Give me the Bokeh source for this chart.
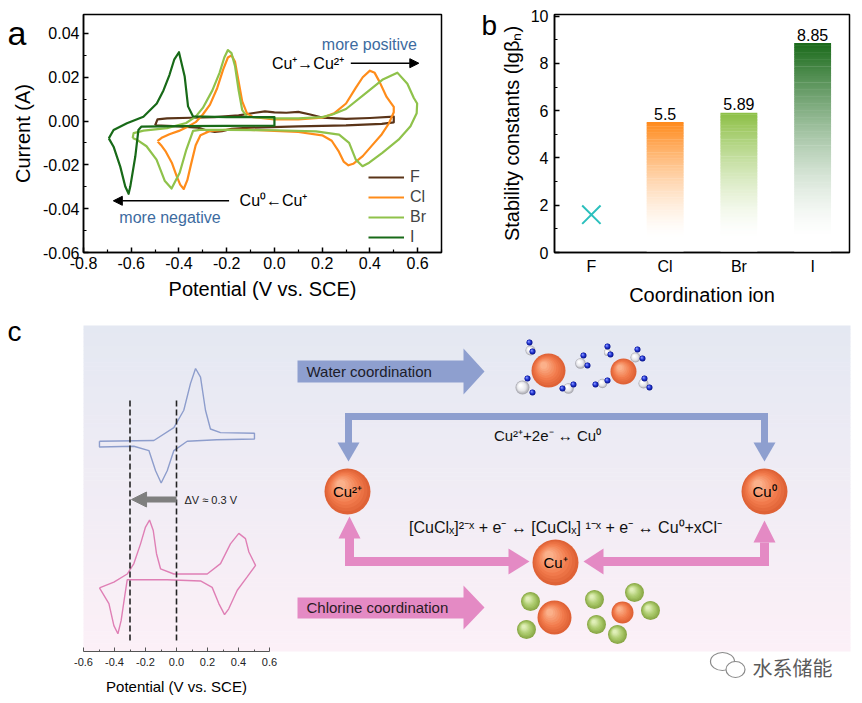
import numpy as np
from bokeh.plotting import figure
from bokeh.layouts import column, row
from bokeh.models import (Range1d, FactorRange, FixedTicker, NumeralTickFormatter,
                          Label, Arrow, NormalHead, GridBox)
from bokeh.core.properties import value
from bokeh.embed import file_html
from bokeh.resources import INLINE

FONT = "Liberation Sans"

# ------------------------------------------------------------------ data (a)
F_E = [-0.50, -0.49, -0.45, -0.35, -0.25, -0.15, -0.08, -0.04, 0.00, 0.05, 0.10, 0.15, 0.20, 0.30, 0.40, 0.50,
       0.50, 0.45, 0.30, 0.10, -0.10, -0.18, -0.22, -0.25, -0.28, -0.32, -0.40, -0.50]
F_I = [-0.0020, 0.0008, 0.0012, 0.0015, 0.0018, 0.0026, 0.0038, 0.0044, 0.0040, 0.0038, 0.0042, 0.0030, 0.0016,
       0.0010, 0.0014, 0.0020, -0.0006, -0.0013, -0.0020, -0.0024, -0.0030, -0.0036, -0.0046, -0.0050, -0.0044,
       -0.0030, -0.0024, -0.0020]

CL_E = [-0.49, -0.47, -0.44, -0.40, -0.37, -0.33, -0.30, -0.27, -0.24, -0.215, -0.195, -0.18, -0.165, -0.15,
        -0.135, -0.115, -0.09, 0.0, 0.1, 0.2, 0.25, 0.30, 0.34, 0.37, 0.40, 0.42, 0.44, 0.47, 0.49, 0.50,
        0.50, 0.48, 0.45, 0.41, 0.37, 0.33, 0.31, 0.29, 0.27, 0.24, 0.20, 0.10, 0.0, -0.1, -0.2, -0.27, -0.31,
        -0.33, -0.35, -0.365, -0.38, -0.395, -0.41, -0.43, -0.455, -0.475, -0.49]
CL_I = [-0.0092, -0.0075, -0.0060, -0.0045, -0.0030, -0.0005, 0.0030, 0.0075, 0.0150, 0.0235, 0.0290, 0.0300,
        0.0270, 0.0180, 0.0090, 0.0035, 0.0018, 0.0008, 0.0008, 0.0015, 0.0035, 0.0080, 0.0150, 0.0200, 0.0230,
        0.0220, 0.0180, 0.0110, 0.0080, 0.0065,
        0.0040, -0.0010, -0.0060, -0.0110, -0.0160, -0.0195, -0.0202, -0.0185, -0.0140, -0.0090, -0.0065,
        -0.0050, -0.0045, -0.0040, -0.0040, -0.0045, -0.0065, -0.0110, -0.0200, -0.0270, -0.0310, -0.0290,
        -0.0250, -0.0190, -0.0140, -0.0110, -0.0092]

BR_E = [-0.594, -0.59, -0.548, -0.45, -0.37, -0.33, -0.30, -0.26, -0.23, -0.21, -0.195, -0.18, -0.165, -0.15,
        -0.135, -0.115, 0.0, 0.1, 0.2, 0.243, 0.30, 0.383, 0.452, 0.515, 0.557, 0.584, 0.598,
        0.596, 0.57, 0.52, 0.452, 0.397, 0.369, 0.341, 0.313, 0.271, 0.174, 0.0, -0.2, -0.313, -0.341,
        -0.369, -0.397, -0.431, -0.459, -0.494, -0.536, -0.577, -0.594]
BR_I = [-0.0077, -0.0055, -0.0044, -0.0032, -0.0009, 0.0020, 0.0060, 0.0140, 0.0220, 0.0290, 0.0324, 0.0310,
        0.0250, 0.0140, 0.0050, 0.0020, 0.0012, 0.0012, 0.0018, 0.0030, 0.0055, 0.0127, 0.0188, 0.0221, 0.0170,
        0.0105, 0.0080,
        0.0036, -0.0024, -0.0085, -0.0145, -0.0190, -0.0206, -0.0176, -0.0100, -0.0062, -0.0047, -0.0042,
        -0.0040, -0.0040, -0.0045, -0.0130, -0.0236, -0.0308, -0.0274, -0.0176, -0.0115, -0.0085, -0.0077]

I_E = [-0.694, -0.674, -0.618, -0.549, -0.493, -0.465, -0.44, -0.42, -0.40, -0.376, -0.362, -0.341, -0.2, 0.0,
       0.0, -0.2, -0.4, -0.557, -0.57, -0.583, -0.604, -0.611, -0.625, -0.646, -0.674, -0.694]
I_I = [-0.0079, -0.0041, -0.0010, 0.0020, 0.0080, 0.0140, 0.0210, 0.0280, 0.0314, 0.0203, 0.0067, 0.0021,
       0.0018, 0.0018, -0.0021, -0.0022, -0.0023, -0.0025, -0.0041, -0.0162, -0.0299, -0.0332, -0.0299,
       -0.0208, -0.0117, -0.0079]

CURVES = [("F", F_E, F_I, "#5a3418"), ("Cl", CL_E, CL_I, "#ff8c1a"),
          ("Br", BR_E, BR_I, "#8fc24b"), ("I", I_E, I_I, "#186a18")]

A_XTICKS = [-0.8, -0.6, -0.4, -0.2, 0.0, 0.2, 0.4, 0.6]
A_YTICKS = [-0.06, -0.04, -0.02, 0.0, 0.02, 0.04]

# ------------------------------------------------------------------ data (b)
IONS = ["F", "Cl", "Br", "I"]
LG_BETA = [1.6, 5.5, 5.89, 8.85]
BAR_IONS = ["Cl", "Br", "I"]
BAR_VALS = [5.5, 5.89, 8.85]
BAR_TEXT = ["5.5", "5.89", "8.85"]
BAR_COLORS = ["#ff8a1c", "#8cbf45", "#1a6a1a"]
B_YTICKS = [0, 2, 4, 6, 8, 10]

# ------------------------------------------------------------------ data (c)
WATER_E = [-0.497, -0.146, -0.017, 0.047, 0.09, 0.123, 0.155, 0.187, 0.219, 0.284, 0.503,
           0.503, 0.26, 0.069, -0.017, -0.06, -0.099, -0.135, -0.178, -0.275, -0.497, -0.497]
WATER_J = [-0.01, 0.0, 0.18, 0.42, 0.79, 1.0, 0.88, 0.42, 0.16, 0.11, 0.10,
           0.02, 0.01, -0.01, -0.14, -0.42, -0.59, -0.42, -0.14, -0.08, -0.09, -0.01]
CHL_E = [-0.497, -0.404, -0.318, -0.275, -0.232, -0.2, -0.174, -0.15, -0.129, -0.103, -0.017, 0.198, 0.284,
         0.348, 0.402, 0.445, 0.467, 0.51, 0.456, 0.392, 0.337, 0.31, 0.273, 0.23, 0.155, -0.06, -0.318,
         -0.335, -0.357, -0.378, -0.404, -0.436, -0.497]
CHL_J = [-0.18, -0.08, 0.06, 0.24, 0.58, 0.87, 0.99, 0.81, 0.41, 0.15, 0.06, 0.06, 0.24, 0.58, 0.76, 0.67,
         0.44, 0.21, 0.01, -0.22, -0.54, -0.64, -0.45, -0.17, -0.06, -0.04, -0.04, -0.34, -0.74, -0.97,
         -0.83, -0.45, -0.18]
SHIFT_E = [-0.3, 0.0]
C_XTICKS = [-0.6, -0.4, -0.2, 0.0, 0.2, 0.4, 0.6]


def mix(c1, c2, t):
    a = [int(c1[i:i + 2], 16) for i in (1, 3, 5)]
    b = [int(c2[i:i + 2], 16) for i in (1, 3, 5)]
    t = min(max(t, 0.0), 1.0)
    return "#%02x%02x%02x" % tuple(int(round(a[k] + (b[k] - a[k]) * t)) for k in range(3))


def style(p, tick_size="16px", label_size="20px"):
    p.xgrid.grid_line_color = None
    p.ygrid.grid_line_color = None
    p.outline_line_color = "black"
    p.outline_line_width = 1.5
    p.outline_line_alpha = 1
    for ax in p.axis:
        ax.axis_line_width = 1.5
        ax.major_tick_line_width = 1.5
        ax.minor_tick_line_width = 1.2
        ax.major_tick_out = 0
        ax.major_tick_in = 5
        ax.minor_tick_out = 0
        ax.minor_tick_in = 3
        ax.major_label_text_font = FONT
        ax.major_label_text_font_size = tick_size
        ax.major_label_text_color = "black"
        ax.axis_label_text_font = FONT
        ax.axis_label_text_font_size = label_size
        ax.axis_label_text_font_style = "normal"
        ax.axis_label_text_color = "black"
        ax.major_label_standoff = 4
        ax.axis_label_standoff = 6


TOP = 14  # shared top border of panels a and b

# ================================================================== panel a
fa = figure(width=448, height=308, x_range=Range1d(-0.8, 0.7),
            y_range=Range1d(-0.06, 0.04 + (33 - TOP) / 2200.0),
            output_backend="svg", toolbar_location=None,
            min_border_left=83, min_border_right=7, min_border_top=TOP, min_border_bottom=55)
style(fa)
fa.xaxis.axis_label = "Potential (V vs. SCE)"
fa.yaxis.axis_label = "Current (A)"
fa.xaxis.ticker = FixedTicker(ticks=A_XTICKS, minor_ticks=[t + 0.1 for t in A_XTICKS])
fa.yaxis.ticker = FixedTicker(ticks=A_YTICKS, minor_ticks=[t + 0.01 for t in A_YTICKS])
fa.xaxis.formatter = NumeralTickFormatter(format="0.0")
fa.yaxis.formatter = NumeralTickFormatter(format="0.00")

for name, e, i, c in CURVES:
    fa.line(e, i, line_color=c, line_width=2.2, legend_label=name, line_join="round")

lg = fa.legend[0]
lg.location = (285, 5)
lg.background_fill_alpha = 0
lg.border_line_alpha = 0
lg.label_text_font = FONT
lg.label_text_font_size = "16px"
lg.glyph_width = 36
lg.glyph_height = 20
lg.label_height = 20
lg.spacing = 0
lg.padding = 0
lg.margin = 0
lg.label_standoff = 6

BLUE_TXT = "#3d6b9f"
fa.add_layout(Label(x=0.398, y=0.035, text="more positive", text_align="center", text_baseline="middle",
                    text_font=FONT, text_font_size="16px", text_color=BLUE_TXT))
fa.add_layout(Label(x=0.292, y=0.0264, text="Cu⁺→Cu²⁺", text_align="right", text_baseline="middle",
                    text_font=FONT, text_font_size="16px", text_color="black"))
fa.add_layout(Arrow(x_start=0.32, y_start=0.0264, x_end=0.605, y_end=0.0264, line_width=1.4,
                    end=NormalHead(size=9, fill_color="black", line_color="black")))
fa.add_layout(Label(x=-0.146, y=-0.0364, text="Cu⁰←Cu⁺", text_align="left", text_baseline="middle",
                    text_font=FONT, text_font_size="16px", text_color="black"))
fa.add_layout(Arrow(x_start=-0.19, y_start=-0.0364, x_end=-0.675, y_end=-0.0364, line_width=1.4,
                    end=NormalHead(size=9, fill_color="black", line_color="black")))
fa.add_layout(Label(x=-0.4375, y=-0.0441, text="more negative", text_align="center", text_baseline="middle",
                    text_font=FONT, text_font_size="16px", text_color=BLUE_TXT))

# ================================================================== panel b
fb = figure(width=412, height=308, x_range=FactorRange(*IONS),
            y_range=Range1d(0, 10 + (15.7 - TOP) / 23.73),
            output_backend="svg", toolbar_location=None,
            min_border_left=106, min_border_right=11, min_border_top=TOP, min_border_bottom=55)
style(fb)
fb.xaxis.axis_label = "Coordination ion"
fb.yaxis.axis_label = "Stability constants (lgβₙ)"
fb.yaxis.ticker = FixedTicker(ticks=B_YTICKS, minor_ticks=[t + 1 for t in B_YTICKS[:-1]])
fb.yaxis.major_label_standoff = 6
fb.yaxis.axis_label_standoff = 5
fb.xaxis.major_tick_in = 0
fb.xaxis.minor_tick_in = 0
fb.xaxis.major_label_standoff = 5

FADE0 = 0.6
NS = 90
for ion, v, col in zip(BAR_IONS, BAR_VALS, BAR_COLORS):
    edges = np.linspace(0, v, NS + 1)
    mids = 0.5 * (edges[:-1] + edges[1:])
    t = np.clip((mids - FADE0) / (v - FADE0), 0, 1) ** 1.5
    cols = [mix("#ffffff", col, float(tt)) for tt in t]
    fb.vbar(x=[ion] * NS, bottom=edges[:-1], top=edges[1:] + 0.02, width=0.5,
            fill_color=cols, line_color=None)
fb.text(x=BAR_IONS, y=[v + 0.12 for v in BAR_VALS], text=BAR_TEXT, text_align="center",
        text_baseline="bottom", text_font=value(FONT), text_font_size="16px", text_color="black")
fb.scatter(x=IONS[:1], y=LG_BETA[:1], marker="x", size=26, line_color="#2cc0bd", line_width=2)

# ================================================================== panel c
V_PER_PX = 1 / 155.0
fc = figure(width=860, height=392,
            x_range=Range1d((0 - 176) * V_PER_PX, (860 - 176) * V_PER_PX),
            y_range=Range1d((440 - 651) / 72.0, (440 - 308) / 72.0),
            output_backend="svg", toolbar_location=None, y_axis_location=None,
            min_border_left=0, min_border_right=0, min_border_top=0, min_border_bottom=49)
fc.extra_x_ranges = {"px": Range1d(0, 860)}
fc.extra_y_ranges = {"px": Range1d(651, 308),
                     "chl": Range1d((577 - 651) / 58.0, (577 - 308) / 58.0)}
fc.xgrid.grid_line_color = None
fc.ygrid.grid_line_color = None
fc.outline_line_color = None
ax = fc.xaxis[0]
ax.bounds = (-0.6, 0.6)
ax.ticker = FixedTicker(ticks=C_XTICKS, minor_ticks=[t + 0.1 for t in C_XTICKS[:-1]])
ax.formatter = NumeralTickFormatter(format="0.0")
ax.axis_line_color = "#555555"
ax.major_tick_line_color = "#555555"
ax.minor_tick_line_color = "#555555"
ax.major_tick_in = 4
ax.major_tick_out = 0
ax.minor_tick_in = 2
ax.minor_tick_out = 0
ax.major_label_text_font = FONT
ax.major_label_text_font_size = "11px"
ax.major_label_text_color = "#222222"
ax.major_label_standoff = 6

PX = dict(x_range_name="px", y_range_name="px")

# background gradient
NB = 80
be = np.linspace(325, 651, NB + 1)
bcols = [mix("#e4e8f2", "#fcf0f7", i / (NB - 1)) for i in range(NB)]
fc.quad(left=83, right=850, top=be[:-1], bottom=be[1:] + 0.5, fill_color=bcols, line_color=None, **PX)

# CV curves of the inset
fc.line(WATER_E + WATER_E[:1], WATER_J + WATER_J[:1], line_color="#8d9dcc", line_width=1.4)
fc.line(CHL_E + CHL_E[:1], CHL_J + CHL_J[:1], line_color="#df7fb5", line_width=1.4, y_range_name="chl")
fc.segment(x0=SHIFT_E, x1=SHIFT_E, y0=[400] * 2, y1=[643] * 2, line_color="#222222", line_width=1.6,
           line_dash="6 3", y_range_name="px")
fc.add_layout(Arrow(x_start=SHIFT_E[1], x_end=SHIFT_E[0] + 0.01, y_start=499, y_end=499, y_range_name="px",
                    line_width=6, line_color="#7f7f7f",
                    end=NormalHead(size=15, fill_color="#7f7f7f", line_color="#7f7f7f")))
fc.add_layout(Label(x=184, y=499, text="ΔV ≈ 0.3 V", text_baseline="middle", text_font=FONT,
                    text_font_size="11px", text_color="#222222", **PX))

# big coordination arrows
BLUE = "#8e9fcf"
PINK = "#e48ac4"
fc.patch([297, 463, 463, 484, 463, 463, 297], [360, 360, 348, 371, 394, 382, 382], fill_color=BLUE,
         line_color=None, **PX)
fc.patch([297, 463, 463, 484, 463, 463, 297], [597, 597, 585, 607, 629, 618, 618], fill_color=PINK,
         line_color=None, **PX)
fc.add_layout(Label(x=306, y=371, text="Water coordination", text_baseline="middle", text_font=FONT,
                    text_font_size="15px", text_color="#1c1c2a", **PX))
fc.add_layout(Label(x=306, y=607, text="Chlorine coordination", text_baseline="middle", text_font=FONT,
                    text_font_size="15px", text_color="#2a1c24", **PX))

# blue bracket
fc.line([348, 348, 764, 764], [446, 416, 416, 446], line_color=BLUE, line_width=7, line_join="miter", **PX)
fc.patches([[337, 359, 348], [753, 775, 764]], [[442, 442, 461], [442, 442, 461]], fill_color=BLUE,
           line_color=None, **PX)
# pink brackets
fc.line([349, 349, 512], [537, 561, 561], line_color=PINK, line_width=9, line_join="miter", **PX)
fc.line([764, 764, 600], [542, 561, 561], line_color=PINK, line_width=9, line_join="miter", **PX)
fc.patches([[338, 360, 349], [753, 775, 764], [508, 508, 529], [603, 603, 583]],
           [[538, 538, 516], [542, 542, 520], [548, 574, 561], [548, 574, 561]],
           fill_color=PINK, line_color=None, **PX)


def spheres(p, xs, ys, rs, dark, base, light, n=9, **kw):
    xs, ys, rs = (np.asarray(a, dtype=float) for a in (xs, ys, rs))
    for k in range(n):
        t = k / (n - 1)
        col = mix(dark, base, t * 2.5) if t < 0.4 else mix(base, light, (t - 0.4) / 0.6)
        p.circle(xs - 0.28 * rs * t, ys - 0.3 * rs * t, radius=rs * (1 - 0.8 * t),
                 fill_color=col, line_color=None, **kw)


ORANGE = ("#df6236", "#f27c4d", "#fbb08a")
# water cluster
spheres(fc, [548, 623], [370, 371], [17, 13], *ORANGE, **PX)
WAT_W = [(530, 350, 5), (522, 387, 7), (580, 363, 5.3), (568, 388, 5.3), (607, 352, 3.5), (635, 357, 5),
         (602, 383, 4.7), (643, 383, 5)]
WAT_B = [(529, 342), (532, 351), (527, 378), (532, 392), (583, 355), (587, 365), (562, 388), (573, 384),
         (607, 346), (610, 354), (637, 349), (642, 358), (595, 384), (607, 380), (644, 378), (649, 387)]
spheres(fc, [w[0] for w in WAT_W], [w[1] for w in WAT_W], [w[2] for w in WAT_W],
        "#a9a9b0", "#e6e6ea", "#ffffff", **PX)
spheres(fc, [b[0] for b in WAT_B], [b[1] for b in WAT_B], [3.0] * len(WAT_B),
        "#0a1690", "#2438d8", "#8a98ff", n=5, **PX)
# chloride cluster
spheres(fc, [554, 622], [617, 612], [17, 11], *ORANGE, **PX)
CL_POS = [(530, 601), (526, 629), (594, 599), (596, 624), (634, 592), (650, 610), (617, 634)]
spheres(fc, [c[0] for c in CL_POS], [c[1] for c in CL_POS], [9.5] * len(CL_POS),
        "#8aa847", "#aac96a", "#e0efb8", **PX)
# Cu ions
CU = [(347, 491, "Cu²⁺"), (764, 491, "Cu⁰"), (555, 562, "Cu⁺")]
spheres(fc, [c[0] for c in CU], [c[1] for c in CU], [23] * 3, *ORANGE, **PX)
for x, y, t in CU:
    fc.add_layout(Label(x=x, y=y, text=t, text_align="center", text_baseline="middle", text_font=FONT,
                        text_font_size="15px", text_color="black", **PX))

fc.add_layout(Label(x=547, y=435, text="Cu²⁺+2e⁻ ↔ Cu⁰", text_align="center", text_baseline="middle",
                    text_font=FONT, text_font_size="15px", text_color="#111111", **PX))
fc.add_layout(Label(x=565, y=527, text="[CuClₓ]²⁻ˣ + e⁻ ↔ [CuClₓ] ¹⁻ˣ + e⁻ ↔ Cu⁰+xCl⁻", text_align="center",
                    text_baseline="middle", text_font=FONT, text_font_size="16px", text_color="#111111", **PX))

# ================================================================== overlay (panel letters, labels, watermark)
ov = figure(width=860, height=700, x_range=Range1d(0, 860), y_range=Range1d(700, 0),
            output_backend="svg", toolbar_location=None, x_axis_location=None, y_axis_location=None,
            min_border=0, min_border_left=0, min_border_right=0, min_border_top=0, min_border_bottom=0,
            background_fill_alpha=0, border_fill_alpha=0, outline_line_color=None)
ov.xgrid.grid_line_color = None
ov.ygrid.grid_line_color = None
for txt, x, y, fs in [("a", 7, 32, "34px"), ("b", 481, 25, "28px"), ("c", 7, 331, "28px")]:
    ov.add_layout(Label(x=x, y=y, text=txt, text_align="left", text_baseline="alphabetic",
                        text_font=FONT, text_font_size=fs, text_color="black"))
# axis title of the inset CV (centred under its own bounded axis)
ov.add_layout(Label(x=176, y=686, text="Potential (V vs. SCE)", text_align="center", text_baseline="middle",
                    text_font=FONT, text_font_size="15px", text_color="black"))
ov.ellipse(x=[722, 735], y=[661, 669], width=[24, 19], height=[18, 16], fill_color="white",
           line_color="#8a8a8a", line_width=1.2)
ov.add_layout(Label(x=752, y=667, text="水系储能", text_align="left", text_baseline="middle",
                    text_font="Noto Sans CJK SC", text_font_size="20px", text_color="#5a5a5a"))

main = column(row(fa, fb), fc)
layout = GridBox(children=[(main, 0, 0), (column(ov), 0, 0)], spacing=0)
open("out.html", "w").write(file_html(layout, INLINE))
